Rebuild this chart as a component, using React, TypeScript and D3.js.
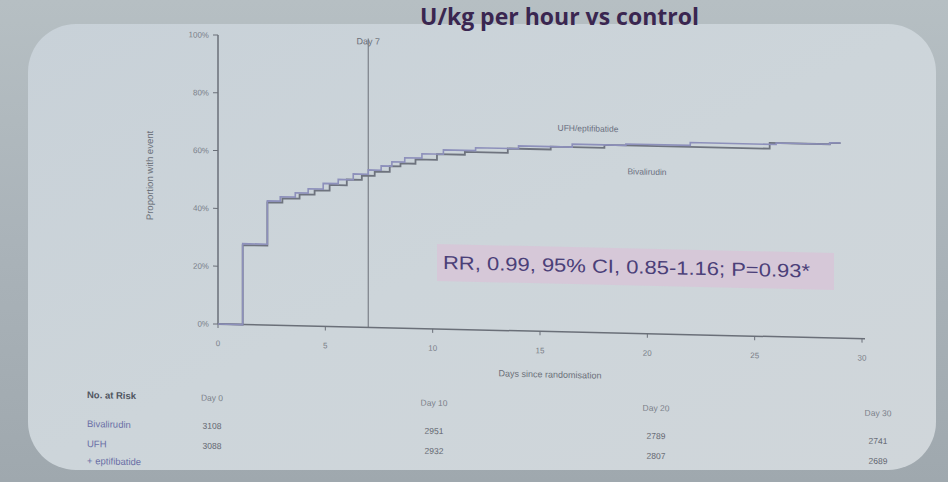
import React from "react";
import * as d3 from "d3";

// Cumulative proportion (%) by day since randomisation, step curves
const ufhDays = [0, 1.15, 2.3, 2.9, 3.6, 4.2, 4.9, 5.6, 6.3, 7.0, 7.6, 8.1, 8.7, 9.5, 10.5, 12, 14, 16.5, 19, 22, 26, 28.5, 29];
const ufhPct = [0, 28, 43, 44.5, 46, 47.5, 49.5, 51, 53, 54.5, 56, 57.5, 59, 60.5, 62, 63, 64, 65, 65.5, 66.5, 67, 67.5, 67.5];
const bivDays = [0, 1.15, 2.3, 3.0, 3.8, 4.5, 5.2, 6.0, 6.7, 7.3, 8.0, 8.5, 9.2, 10.2, 11.5, 13.5, 15.5, 18, 25.7, 28.5, 29];
const bivPct = [0, 27.5, 42.5, 44, 45.5, 47, 49, 51, 52.5, 54, 56, 57, 58.5, 60.5, 61.5, 63, 64, 65, 67, 67.5, 67.5];

const yTicks = [0, 20, 40, 60, 80, 100];
const xTicks = [0, 5, 10, 15, 20, 25, 30];

// Number at risk table
const riskDays = [0, 10, 20, 30];
const riskHeaders = ["Day 0", "Day 10", "Day 20", "Day 30"];
const riskBiv = ["3108", "2951", "2789", "2741"];
const riskUfh = ["3088", "2932", "2807", "2689"];

const statText = "RR, 0.99, 95% CI, 0.85-1.16; P=0.93*";

export default function App() {
  const W = 948;
  const H = 482;
  const x = d3.scaleLinear().domain([0, 30]).range([218, 862]);
  const y = d3.scaleLinear().domain([0, 100]).range([324, 35]);
  const colX = d3.scaleLinear().domain([0, 30]).range([212, 878]);

  const line = d3
    .line<[number, number]>()
    .x((d) => x(d[0]))
    .y((d) => y(d[1]))
    .curve(d3.curveStepAfter);

  const ufhPath = line(ufhDays.map((d, i) => [d, ufhPct[i]]) as [number, number][]) || "";
  const bivPath = line(bivDays.map((d, i) => [d, bivPct[i]]) as [number, number][]) || "";

  const font = "'Liberation Sans', Arial, sans-serif";
  const tickCol = "#7a7f89";
  const axisCol = "#6a6f78";
  const skew = `translate(218,0) skewY(1.3) translate(-218,0)`;

  return (
    <svg
      width={W}
      height={H}
      viewBox={`0 0 ${W} ${H}`}
      style={{ position: "absolute", left: 0, top: 0, display: "block" }}
      fontFamily={font}
    >
      <defs>
        <linearGradient id="bg" x1="0" y1="0" x2="0" y2="1">
          <stop offset="0" stopColor="#b6bfc3" />
          <stop offset="0.5" stopColor="#aab3b9" />
          <stop offset="1" stopColor="#9fa8ae" />
        </linearGradient>
        <linearGradient id="panel" x1="0" y1="0" x2="1" y2="1">
          <stop offset="0" stopColor="#c8d1d8" />
          <stop offset="0.5" stopColor="#cdd5da" />
          <stop offset="1" stopColor="#d0d6da" />
        </linearGradient>
      </defs>
      <rect x={0} y={0} width={W} height={H} fill="url(#bg)" />

      {/* slide panel */}
      <rect x={28} y={24} width={908} height={446} rx={48} ry={48} fill="url(#panel)" />

      {/* slide title */}
      <text
        x={420}
        y={25}
        fontFamily="'Open Sans', 'DejaVu Sans', sans-serif"
        fontWeight={700}
        fontSize={23}
        fill="#3a2650"
      >
        U/kg per hour vs control
      </text>

      <g transform={skew}>
        {/* stats box */}
        <rect x={437} y={239} width={397} height={37} fill="#d6c7d8" opacity={0.95} />
        <text
          x={443}
          y={264}
          fontSize={19}
          fill="#4b4078"
          textLength={367}
          lengthAdjust="spacingAndGlyphs"
        >
          {statText}
        </text>

        {/* Day 7 marker */}
        <line x1={x(7)} x2={x(7)} y1={35} y2={y(0)} stroke="#7b8088" strokeWidth={1.2} />
        <text x={x(7)} y={41} fontSize={9} fill="#6b7079" textAnchor="middle">
          Day 7
        </text>

        {/* y axis */}
        <line x1={x(0)} x2={x(0)} y1={y(100)} y2={y(0)} stroke={axisCol} strokeWidth={1.5} />
        {yTicks.map((t) => (
          <g key={t}>
            <line x1={x(0) - 5} x2={x(0)} y1={y(t)} y2={y(t)} stroke={axisCol} strokeWidth={1} />
            <text x={x(0) - 9} y={y(t) + 3} fontSize={8} fill={tickCol} textAnchor="end">
              {t}%
            </text>
          </g>
        ))}
        <text
          transform={`translate(153,177) rotate(-90)`}
          fontSize={9.5}
          fill="#6b7079"
          textAnchor="middle"
        >
          Proportion with event
        </text>

        {/* x axis */}
        <line x1={x(0)} x2={x(30) + 3} y1={y(0)} y2={y(0)} stroke={axisCol} strokeWidth={1.5} />
        {xTicks.map((t) => (
          <g key={t}>
            <line x1={x(t)} x2={x(t)} y1={y(0)} y2={y(0) + 4} stroke={axisCol} strokeWidth={1} />
            <text x={x(t)} y={y(0) + 22} fontSize={8} fill={tickCol} textAnchor="middle">
              {t}
            </text>
          </g>
        ))}
        <text x={550} y={370} fontSize={9} fill="#6b7079" textAnchor="middle">
          Days since randomisation
        </text>

        {/* curves */}
        <path d={bivPath} fill="none" stroke="#6e737e" strokeWidth={1.8} />
        <path d={ufhPath} fill="none" stroke="#8d90bb" strokeWidth={1.6} />
        <text x={588} y={123} fontSize={8.5} fill="#6a6f80" textAnchor="middle">
          UFH/eptifibatide
        </text>
        <text x={647} y={165} fontSize={8.5} fill="#6a6f80" textAnchor="middle">
          Bivalirudin
        </text>

        {/* number at risk */}
        <text x={87} y={401} fontSize={9.5} fontWeight={700} fill="#50555f">
          No. at Risk
        </text>
        <text x={87} y={430} fontSize={9.5} fill="#6b70a6">
          Bivalirudin
        </text>
        <text x={87} y={450} fontSize={9.5} fill="#6b70a6">
          UFH
        </text>
        <text x={87} y={467} fontSize={9.5} fill="#6b70a6">
          + eptifibatide
        </text>
        {riskDays.map((d, i) => (
          <g key={d}>
            <text x={colX(d)} y={401} fontSize={8.5} fill={tickCol} textAnchor="middle">
              {riskHeaders[i]}
            </text>
            <text x={colX(d)} y={429} fontSize={8.5} fill="#5e636d" textAnchor="middle">
              {riskBiv[i]}
            </text>
            <text x={colX(d)} y={449} fontSize={8.5} fill="#5e636d" textAnchor="middle">
              {riskUfh[i]}
            </text>
          </g>
        ))}
      </g>
    </svg>
  );
}
